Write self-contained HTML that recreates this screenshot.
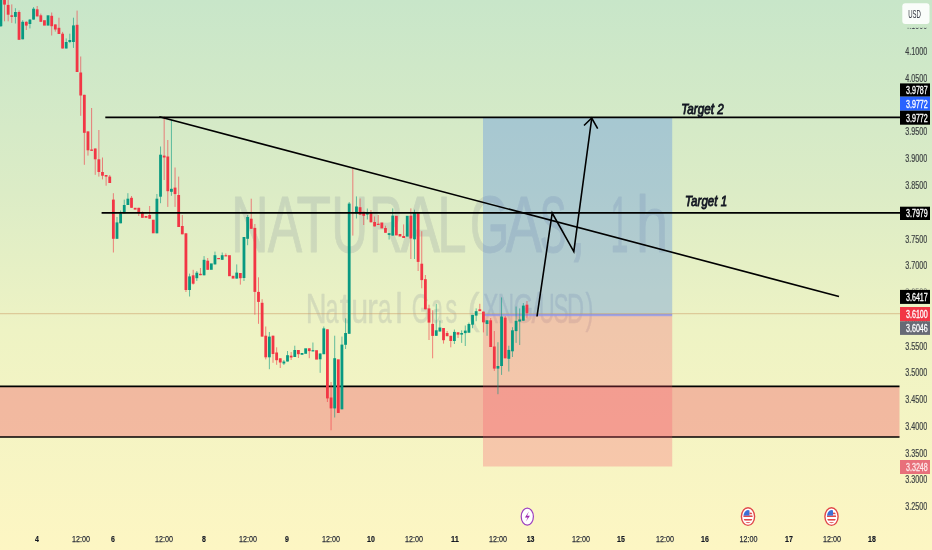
<!DOCTYPE html>
<html><head><meta charset="utf-8"><style>
html,body{margin:0;padding:0;width:932px;height:550px;overflow:hidden;}
body{background:linear-gradient(to bottom,#c8e6c9 0%,#dcecc6 35%,#eef3c4 60%,#fdf6c3 100%);font-family:"Liberation Sans",sans-serif;}
svg{position:absolute;left:0;top:0;will-change:transform;}
</style></head><body>
<svg width="932" height="550" viewBox="0 0 932 550" font-family="Liberation Sans, sans-serif">
<!-- watermark -->
<g opacity="0.2" fill="#7a8494" stroke="#7a8494" stroke-width="12" stroke-linejoin="round" font-size="1000">
<text transform="translate(230.93,252.2) scale(0.05206,0.07994)">N</text>
<text transform="translate(267.80,252.2) scale(0.05158,0.07994)">A</text>
<text transform="translate(296.46,252.2) scale(0.05654,0.07994)">T</text>
<text transform="translate(331.37,252.2) scale(0.05106,0.07994)">U</text>
<text transform="translate(369.18,252.2) scale(0.04654,0.07994)">R</text>
<text transform="translate(400.48,252.2) scale(0.05928,0.07994)">A</text>
<text transform="translate(437.27,252.2) scale(0.05283,0.07994)">L</text>
<text transform="translate(469.64,252.2) scale(0.05115,0.07994)">G</text>
<text transform="translate(505.49,252.2) scale(0.05490,0.07994)">A</text>
<text transform="translate(539.76,252.2) scale(0.04000,0.07994)">S</text>
<text transform="translate(568.03,252.2) scale(0.06633,0.07994)">,</text>
<text transform="translate(610.45,252.2) scale(0.03225,0.07994)">1</text>
<text transform="translate(635.89,252.2) scale(0.05806,0.07994)">h</text>
</g>
<g opacity="0.2" fill="#7a8494" stroke="#7a8494" stroke-width="12" stroke-linejoin="round" font-size="1000">
<text transform="translate(305.64,322.6) scale(0.02880,0.04172)">N</text>
<text transform="translate(325.62,322.6) scale(0.02335,0.04172)">a</text>
<text transform="translate(339.63,322.6) scale(0.03789,0.04172)">t</text>
<text transform="translate(351.13,322.6) scale(0.03035,0.04172)">u</text>
<text transform="translate(367.06,322.6) scale(0.03240,0.04172)">r</text>
<text transform="translate(377.85,322.6) scale(0.02490,0.04172)">a</text>
<text transform="translate(395.32,322.6) scale(0.03409,0.04172)">l</text>
<text transform="translate(411.75,322.6) scale(0.02297,0.04172)">G</text>
<text transform="translate(431.33,322.6) scale(0.02082,0.04172)">a</text>
<text transform="translate(445.44,322.6) scale(0.02339,0.04172)">s</text>
<text transform="translate(467.43,322.6) scale(0.03660,0.04172)">(</text>
<text transform="translate(483.28,322.6) scale(0.02279,0.04172)">X</text>
<text transform="translate(497.64,322.6) scale(0.02272,0.04172)">N</text>
<text transform="translate(513.52,322.6) scale(0.02557,0.04172)">G</text>
<text transform="translate(531.50,322.6) scale(0.03237,0.04172)">/</text>
<text transform="translate(538.81,322.6) scale(0.02201,0.04172)">U</text>
<text transform="translate(553.46,322.6) scale(0.02261,0.04172)">S</text>
<text transform="translate(567.06,322.6) scale(0.02365,0.04172)">D</text>
<text transform="translate(585.46,322.6) scale(0.02415,0.04172)">)</text>
</g>
<!-- support zone -->
<rect x="0" y="386.3" width="899.5" height="50.7" fill="#f04357" fill-opacity="0.33"/>
<line x1="0" y1="386.3" x2="899.5" y2="386.3" stroke="#000" stroke-width="1.7"/>
<line x1="0" y1="437" x2="899.5" y2="437" stroke="#000" stroke-width="1.7"/>
<!-- position boxes -->
<rect x="483" y="117.3" width="189.2" height="197.5" fill="#2e6fed" fill-opacity="0.27"/>
<rect x="483" y="316" width="189.2" height="150.5" fill="#f84d68" fill-opacity="0.27"/>
<rect x="483" y="314" width="189.2" height="2.2" fill="#8f8fe8" opacity="0.8"/>
<!-- price line -->
<line x1="0" y1="313.6" x2="900" y2="313.6" stroke="#c8905a" stroke-width="1.2" opacity="0.4"/>
<!-- candles -->
<rect x="0.40" y="-2.0" width="1" height="29.0" fill="#089981" opacity="0.6"/>
<rect x="-0.50" y="0.0" width="2.8" height="26.2" fill="#089981"/>
<rect x="4.03" y="-2.0" width="1" height="23.3" fill="#f23645" opacity="0.6"/>
<rect x="3.13" y="0.0" width="2.8" height="4.6" fill="#f23645"/>
<rect x="7.66" y="0.0" width="1" height="21.3" fill="#f23645" opacity="0.6"/>
<rect x="6.76" y="4.9" width="2.8" height="9.8" fill="#f23645"/>
<rect x="11.28" y="4.4" width="1" height="18.5" fill="#f23645" opacity="0.6"/>
<rect x="10.38" y="15.3" width="2.8" height="1.6" fill="#f23645"/>
<rect x="14.91" y="8.2" width="1" height="15.3" fill="#089981" opacity="0.6"/>
<rect x="14.01" y="12.0" width="2.8" height="4.9" fill="#089981"/>
<rect x="18.54" y="10.4" width="1" height="29.4" fill="#f23645" opacity="0.6"/>
<rect x="17.64" y="12.0" width="2.8" height="27.8" fill="#f23645"/>
<rect x="22.17" y="20.2" width="1" height="19.1" fill="#089981" opacity="0.6"/>
<rect x="21.27" y="21.8" width="2.8" height="17.5" fill="#089981"/>
<rect x="25.80" y="21.3" width="1" height="8.7" fill="#f23645" opacity="0.6"/>
<rect x="24.90" y="21.8" width="2.8" height="3.8" fill="#f23645"/>
<rect x="29.42" y="19.1" width="1" height="9.3" fill="#089981" opacity="0.6"/>
<rect x="28.52" y="19.6" width="2.8" height="4.4" fill="#089981"/>
<rect x="33.05" y="7.1" width="1" height="12.5" fill="#089981" opacity="0.6"/>
<rect x="32.15" y="8.7" width="2.8" height="10.9" fill="#089981"/>
<rect x="36.68" y="6.0" width="1" height="10.4" fill="#f23645" opacity="0.6"/>
<rect x="35.78" y="9.3" width="2.8" height="7.1" fill="#f23645"/>
<rect x="40.31" y="13.6" width="1" height="8.2" fill="#f23645" opacity="0.6"/>
<rect x="39.41" y="15.3" width="2.8" height="6.5" fill="#f23645"/>
<rect x="43.04" y="20.2" width="2.8" height="5.4" fill="#f23645"/>
<rect x="46.66" y="15.3" width="2.8" height="10.3" fill="#089981"/>
<rect x="51.19" y="12.5" width="1" height="23.0" fill="#f23645" opacity="0.6"/>
<rect x="50.29" y="15.8" width="2.8" height="10.4" fill="#f23645"/>
<rect x="54.82" y="24.4" width="1" height="7.2" fill="#f23645" opacity="0.6"/>
<rect x="53.92" y="24.4" width="2.8" height="5.1" fill="#f23645"/>
<rect x="58.45" y="17.7" width="1" height="16.3" fill="#f23645" opacity="0.6"/>
<rect x="57.55" y="27.8" width="2.8" height="6.2" fill="#f23645"/>
<rect x="62.08" y="31.9" width="1" height="16.6" fill="#f23645" opacity="0.6"/>
<rect x="61.18" y="33.7" width="2.8" height="14.8" fill="#f23645"/>
<rect x="65.70" y="38.4" width="1" height="10.1" fill="#089981" opacity="0.6"/>
<rect x="64.80" y="42.0" width="2.8" height="6.5" fill="#089981"/>
<rect x="69.33" y="33.7" width="1" height="9.4" fill="#089981" opacity="0.6"/>
<rect x="68.43" y="40.0" width="2.8" height="2.0" fill="#089981"/>
<rect x="72.96" y="17.7" width="1" height="30.2" fill="#089981" opacity="0.6"/>
<rect x="72.06" y="25.4" width="2.8" height="16.6" fill="#089981"/>
<rect x="76.59" y="10.6" width="1" height="61.4" fill="#f23645" opacity="0.6"/>
<rect x="75.69" y="24.8" width="2.8" height="47.2" fill="#f23645"/>
<rect x="80.22" y="56.5" width="1" height="59.3" fill="#f23645" opacity="0.6"/>
<rect x="79.32" y="72.5" width="2.8" height="23.0" fill="#f23645"/>
<rect x="83.84" y="94.8" width="1" height="70.0" fill="#f23645" opacity="0.6"/>
<rect x="82.94" y="94.8" width="2.8" height="38.0" fill="#f23645"/>
<rect x="87.47" y="131.4" width="1" height="24.2" fill="#f23645" opacity="0.6"/>
<rect x="86.57" y="131.4" width="2.8" height="18.9" fill="#f23645"/>
<rect x="91.10" y="108.0" width="1" height="42.9" fill="#f23645" opacity="0.6"/>
<rect x="90.20" y="149.5" width="2.8" height="1.3" fill="#f23645"/>
<rect x="94.73" y="148.5" width="1" height="26.3" fill="#f23645" opacity="0.6"/>
<rect x="93.83" y="148.5" width="2.8" height="10.8" fill="#f23645"/>
<rect x="98.36" y="130.0" width="1" height="46.6" fill="#f23645" opacity="0.6"/>
<rect x="97.46" y="159.3" width="2.8" height="12.7" fill="#f23645"/>
<rect x="101.98" y="157.5" width="1" height="21.9" fill="#f23645" opacity="0.6"/>
<rect x="101.08" y="172.0" width="2.8" height="3.7" fill="#f23645"/>
<rect x="105.61" y="175.0" width="1" height="10.7" fill="#f23645" opacity="0.6"/>
<rect x="104.71" y="175.0" width="2.8" height="1.6" fill="#f23645"/>
<rect x="109.24" y="175.0" width="1" height="8.0" fill="#f23645" opacity="0.6"/>
<rect x="108.34" y="176.6" width="2.8" height="6.4" fill="#f23645"/>
<rect x="112.87" y="193.2" width="1" height="59.3" fill="#f23645" opacity="0.6"/>
<rect x="111.97" y="199.6" width="2.8" height="39.2" fill="#f23645"/>
<rect x="116.50" y="217.0" width="1" height="21.8" fill="#089981" opacity="0.6"/>
<rect x="115.60" y="222.4" width="2.8" height="16.4" fill="#089981"/>
<rect x="120.12" y="210.5" width="1" height="12.8" fill="#089981" opacity="0.6"/>
<rect x="119.22" y="213.3" width="2.8" height="10.0" fill="#089981"/>
<rect x="123.75" y="199.6" width="1" height="13.7" fill="#089981" opacity="0.6"/>
<rect x="122.85" y="205.0" width="2.8" height="8.3" fill="#089981"/>
<rect x="127.38" y="193.2" width="1" height="11.8" fill="#089981" opacity="0.6"/>
<rect x="126.48" y="198.7" width="2.8" height="6.3" fill="#089981"/>
<rect x="131.01" y="196.0" width="1" height="11.8" fill="#f23645" opacity="0.6"/>
<rect x="130.11" y="197.8" width="2.8" height="10.0" fill="#f23645"/>
<rect x="133.74" y="207.8" width="2.8" height="1.8" fill="#f23645"/>
<rect x="138.26" y="207.8" width="1" height="8.2" fill="#f23645" opacity="0.6"/>
<rect x="137.36" y="207.8" width="2.8" height="5.5" fill="#f23645"/>
<rect x="141.89" y="211.5" width="1" height="6.3" fill="#f23645" opacity="0.6"/>
<rect x="140.99" y="212.4" width="2.8" height="5.4" fill="#f23645"/>
<rect x="144.62" y="216.0" width="2.8" height="1.8" fill="#f23645"/>
<rect x="149.15" y="206.0" width="1" height="12.7" fill="#f23645" opacity="0.6"/>
<rect x="148.25" y="215.0" width="2.8" height="3.7" fill="#f23645"/>
<rect x="151.88" y="219.7" width="2.8" height="13.6" fill="#f23645"/>
<rect x="156.40" y="194.0" width="1" height="39.3" fill="#089981" opacity="0.6"/>
<rect x="155.50" y="198.7" width="2.8" height="34.6" fill="#089981"/>
<rect x="160.03" y="146.5" width="1" height="56.7" fill="#089981" opacity="0.6"/>
<rect x="159.13" y="154.7" width="2.8" height="42.0" fill="#089981"/>
<rect x="163.66" y="116.4" width="1" height="63.6" fill="#f23645" opacity="0.6"/>
<rect x="162.76" y="155.6" width="2.8" height="1.9" fill="#f23645"/>
<rect x="167.29" y="140.0" width="1" height="66.9" fill="#f23645" opacity="0.6"/>
<rect x="166.39" y="156.5" width="2.8" height="34.7" fill="#f23645"/>
<rect x="170.92" y="120.0" width="1" height="75.8" fill="#089981" opacity="0.6"/>
<rect x="170.02" y="188.8" width="2.8" height="3.0" fill="#089981"/>
<rect x="174.54" y="167.5" width="1" height="39.4" fill="#f23645" opacity="0.6"/>
<rect x="173.64" y="187.6" width="2.8" height="6.5" fill="#f23645"/>
<rect x="178.17" y="176.6" width="1" height="50.4" fill="#f23645" opacity="0.6"/>
<rect x="177.27" y="195.0" width="2.8" height="32.0" fill="#f23645"/>
<rect x="181.80" y="215.0" width="1" height="19.3" fill="#f23645" opacity="0.6"/>
<rect x="180.90" y="226.0" width="2.8" height="8.3" fill="#f23645"/>
<rect x="185.43" y="233.3" width="1" height="58.7" fill="#f23645" opacity="0.6"/>
<rect x="184.53" y="233.3" width="2.8" height="56.7" fill="#f23645"/>
<rect x="189.06" y="273.6" width="1" height="22.9" fill="#089981" opacity="0.6"/>
<rect x="188.16" y="276.4" width="2.8" height="13.6" fill="#089981"/>
<rect x="192.68" y="269.8" width="1" height="14.8" fill="#f23645" opacity="0.6"/>
<rect x="191.78" y="275.3" width="2.8" height="8.4" fill="#f23645"/>
<rect x="196.31" y="271.0" width="1" height="10.0" fill="#089981" opacity="0.6"/>
<rect x="195.41" y="272.7" width="2.8" height="5.5" fill="#089981"/>
<rect x="199.94" y="268.0" width="1" height="7.2" fill="#f23645" opacity="0.6"/>
<rect x="199.04" y="273.8" width="2.8" height="1.4" fill="#f23645"/>
<rect x="203.57" y="256.1" width="1" height="19.2" fill="#089981" opacity="0.6"/>
<rect x="202.67" y="259.8" width="2.8" height="15.5" fill="#089981"/>
<rect x="207.20" y="258.0" width="1" height="11.8" fill="#f23645" opacity="0.6"/>
<rect x="206.30" y="260.7" width="2.8" height="9.1" fill="#f23645"/>
<rect x="209.92" y="263.4" width="2.8" height="6.4" fill="#089981"/>
<rect x="214.45" y="251.6" width="1" height="12.8" fill="#089981" opacity="0.6"/>
<rect x="213.55" y="255.2" width="2.8" height="9.2" fill="#089981"/>
<rect x="217.18" y="258.0" width="2.8" height="1.2" fill="#f23645"/>
<rect x="221.71" y="252.5" width="1" height="7.3" fill="#089981" opacity="0.6"/>
<rect x="220.81" y="255.2" width="2.8" height="4.6" fill="#089981"/>
<rect x="225.34" y="253.4" width="1" height="2.7" fill="#f23645" opacity="0.6"/>
<rect x="224.44" y="255.2" width="2.8" height="1.2" fill="#f23645"/>
<rect x="228.06" y="255.2" width="2.8" height="21.0" fill="#f23645"/>
<rect x="231.69" y="275.8" width="2.8" height="2.8" fill="#f23645"/>
<rect x="236.22" y="264.4" width="1" height="14.2" fill="#089981" opacity="0.6"/>
<rect x="235.32" y="272.6" width="2.8" height="6.0" fill="#089981"/>
<rect x="239.85" y="273.0" width="1" height="11.6" fill="#f23645" opacity="0.6"/>
<rect x="238.95" y="273.0" width="2.8" height="5.2" fill="#f23645"/>
<rect x="243.48" y="237.0" width="1" height="44.0" fill="#089981" opacity="0.6"/>
<rect x="242.58" y="237.0" width="2.8" height="41.0" fill="#089981"/>
<rect x="247.10" y="215.0" width="1" height="30.2" fill="#089981" opacity="0.6"/>
<rect x="246.20" y="217.0" width="2.8" height="21.8" fill="#089981"/>
<rect x="250.73" y="198.7" width="1" height="30.1" fill="#f23645" opacity="0.6"/>
<rect x="249.83" y="218.7" width="2.8" height="10.1" fill="#f23645"/>
<rect x="254.36" y="224.0" width="1" height="90.7" fill="#f23645" opacity="0.6"/>
<rect x="253.46" y="227.9" width="2.8" height="64.0" fill="#f23645"/>
<rect x="257.99" y="277.3" width="1" height="46.5" fill="#f23645" opacity="0.6"/>
<rect x="257.09" y="291.9" width="2.8" height="10.0" fill="#f23645"/>
<rect x="261.62" y="299.2" width="1" height="37.4" fill="#f23645" opacity="0.6"/>
<rect x="260.72" y="302.8" width="2.8" height="33.8" fill="#f23645"/>
<rect x="265.24" y="326.5" width="1" height="32.9" fill="#f23645" opacity="0.6"/>
<rect x="264.34" y="335.7" width="2.8" height="21.6" fill="#f23645"/>
<rect x="268.87" y="332.0" width="1" height="37.2" fill="#089981" opacity="0.6"/>
<rect x="267.97" y="336.6" width="2.8" height="20.7" fill="#089981"/>
<rect x="272.50" y="335.7" width="1" height="27.1" fill="#f23645" opacity="0.6"/>
<rect x="271.60" y="335.7" width="2.8" height="18.3" fill="#f23645"/>
<rect x="276.13" y="347.3" width="1" height="17.5" fill="#f23645" opacity="0.6"/>
<rect x="275.23" y="352.5" width="2.8" height="7.7" fill="#f23645"/>
<rect x="279.76" y="358.3" width="1" height="9.7" fill="#f23645" opacity="0.6"/>
<rect x="278.86" y="358.3" width="2.8" height="4.2" fill="#f23645"/>
<rect x="283.38" y="360.0" width="1" height="5.0" fill="#089981" opacity="0.6"/>
<rect x="282.48" y="361.5" width="2.8" height="2.0" fill="#089981"/>
<rect x="287.01" y="351.0" width="1" height="10.5" fill="#089981" opacity="0.6"/>
<rect x="286.11" y="355.2" width="2.8" height="6.3" fill="#089981"/>
<rect x="290.64" y="352.0" width="1" height="8.0" fill="#f23645" opacity="0.6"/>
<rect x="289.74" y="355.7" width="2.8" height="1.8" fill="#f23645"/>
<rect x="294.27" y="345.7" width="1" height="11.3" fill="#089981" opacity="0.6"/>
<rect x="293.37" y="350.0" width="2.8" height="7.0" fill="#089981"/>
<rect x="297.90" y="350.0" width="1" height="8.0" fill="#f23645" opacity="0.6"/>
<rect x="297.00" y="350.0" width="2.8" height="4.2" fill="#f23645"/>
<rect x="300.62" y="353.0" width="2.8" height="1.8" fill="#089981"/>
<rect x="304.25" y="348.3" width="2.8" height="5.5" fill="#089981"/>
<rect x="308.78" y="348.3" width="1" height="9.9" fill="#f23645" opacity="0.6"/>
<rect x="307.88" y="348.3" width="2.8" height="2.8" fill="#f23645"/>
<rect x="312.41" y="342.5" width="1" height="8.8" fill="#089981" opacity="0.6"/>
<rect x="311.51" y="350.2" width="2.8" height="1.2" fill="#089981"/>
<rect x="315.14" y="350.2" width="2.8" height="9.4" fill="#f23645"/>
<rect x="319.66" y="353.5" width="1" height="19.3" fill="#089981" opacity="0.6"/>
<rect x="318.76" y="353.5" width="2.8" height="5.8" fill="#089981"/>
<rect x="323.29" y="326.5" width="1" height="27.7" fill="#089981" opacity="0.6"/>
<rect x="322.39" y="328.4" width="2.8" height="25.8" fill="#089981"/>
<rect x="326.92" y="329.3" width="1" height="72.7" fill="#f23645" opacity="0.6"/>
<rect x="326.02" y="329.3" width="2.8" height="69.1" fill="#f23645"/>
<rect x="330.55" y="382.0" width="1" height="48.3" fill="#f23645" opacity="0.6"/>
<rect x="329.65" y="397.5" width="2.8" height="10.9" fill="#f23645"/>
<rect x="334.18" y="335.7" width="1" height="81.8" fill="#089981" opacity="0.6"/>
<rect x="333.28" y="358.2" width="2.8" height="50.2" fill="#089981"/>
<rect x="336.90" y="359.3" width="2.8" height="53.7" fill="#f23645"/>
<rect x="341.43" y="336.6" width="1" height="72.7" fill="#089981" opacity="0.6"/>
<rect x="340.53" y="344.6" width="2.8" height="64.7" fill="#089981"/>
<rect x="345.06" y="318.3" width="1" height="30.7" fill="#089981" opacity="0.6"/>
<rect x="344.16" y="333.0" width="2.8" height="11.8" fill="#089981"/>
<rect x="348.69" y="202.0" width="1" height="131.8" fill="#089981" opacity="0.6"/>
<rect x="347.79" y="203.6" width="2.8" height="130.2" fill="#089981"/>
<rect x="352.32" y="168.5" width="1" height="67.1" fill="#f23645" opacity="0.6"/>
<rect x="351.42" y="212.0" width="2.8" height="1.2" fill="#f23645"/>
<rect x="355.94" y="196.4" width="1" height="22.1" fill="#089981" opacity="0.6"/>
<rect x="355.04" y="206.5" width="2.8" height="7.0" fill="#089981"/>
<rect x="359.57" y="198.5" width="1" height="16.1" fill="#f23645" opacity="0.6"/>
<rect x="358.67" y="207.2" width="2.8" height="7.4" fill="#f23645"/>
<rect x="363.20" y="211.8" width="1" height="13.2" fill="#f23645" opacity="0.6"/>
<rect x="362.30" y="211.8" width="2.8" height="4.0" fill="#f23645"/>
<rect x="366.83" y="208.5" width="1" height="11.0" fill="#089981" opacity="0.6"/>
<rect x="365.93" y="212.5" width="2.8" height="2.0" fill="#089981"/>
<rect x="370.46" y="210.0" width="1" height="12.3" fill="#f23645" opacity="0.6"/>
<rect x="369.56" y="212.5" width="2.8" height="9.8" fill="#f23645"/>
<rect x="374.08" y="216.5" width="1" height="9.9" fill="#f23645" opacity="0.6"/>
<rect x="373.18" y="222.0" width="2.8" height="4.4" fill="#f23645"/>
<rect x="377.71" y="215.0" width="1" height="9.8" fill="#f23645" opacity="0.6"/>
<rect x="376.81" y="223.8" width="2.8" height="1.2" fill="#f23645"/>
<rect x="380.44" y="222.5" width="2.8" height="5.9" fill="#f23645"/>
<rect x="384.97" y="225.7" width="1" height="7.1" fill="#f23645" opacity="0.6"/>
<rect x="384.07" y="228.0" width="2.8" height="4.8" fill="#f23645"/>
<rect x="388.60" y="233.2" width="1" height="6.3" fill="#089981" opacity="0.6"/>
<rect x="387.70" y="233.2" width="2.8" height="1.7" fill="#089981"/>
<rect x="392.22" y="208.4" width="1" height="27.2" fill="#089981" opacity="0.6"/>
<rect x="391.32" y="215.6" width="2.8" height="20.0" fill="#089981"/>
<rect x="394.95" y="215.8" width="2.8" height="19.6" fill="#f23645"/>
<rect x="398.58" y="234.0" width="2.8" height="2.5" fill="#f23645"/>
<rect x="403.11" y="224.4" width="1" height="13.6" fill="#f23645" opacity="0.6"/>
<rect x="402.21" y="236.0" width="2.8" height="2.0" fill="#f23645"/>
<rect x="405.84" y="215.8" width="2.8" height="20.8" fill="#089981"/>
<rect x="410.36" y="208.4" width="1" height="50.6" fill="#f23645" opacity="0.6"/>
<rect x="409.46" y="215.7" width="2.8" height="22.8" fill="#f23645"/>
<rect x="413.99" y="209.7" width="1" height="49.3" fill="#089981" opacity="0.6"/>
<rect x="413.09" y="212.7" width="2.8" height="26.6" fill="#089981"/>
<rect x="417.62" y="213.2" width="1" height="57.8" fill="#f23645" opacity="0.6"/>
<rect x="416.72" y="213.2" width="2.8" height="48.7" fill="#f23645"/>
<rect x="421.25" y="231.2" width="1" height="57.1" fill="#f23645" opacity="0.6"/>
<rect x="420.35" y="263.7" width="2.8" height="16.4" fill="#f23645"/>
<rect x="424.88" y="275.0" width="1" height="34.3" fill="#f23645" opacity="0.6"/>
<rect x="423.98" y="279.2" width="2.8" height="30.1" fill="#f23645"/>
<rect x="428.50" y="304.7" width="1" height="35.3" fill="#f23645" opacity="0.6"/>
<rect x="427.60" y="308.4" width="2.8" height="14.2" fill="#f23645"/>
<rect x="432.13" y="310.2" width="1" height="48.1" fill="#f23645" opacity="0.6"/>
<rect x="431.23" y="323.9" width="2.8" height="12.0" fill="#f23645"/>
<rect x="435.76" y="303.8" width="1" height="32.0" fill="#089981" opacity="0.6"/>
<rect x="434.86" y="330.3" width="2.8" height="5.5" fill="#089981"/>
<rect x="439.39" y="320.5" width="1" height="11.0" fill="#089981" opacity="0.6"/>
<rect x="438.49" y="327.5" width="2.8" height="4.0" fill="#089981"/>
<rect x="443.02" y="328.0" width="1" height="15.6" fill="#f23645" opacity="0.6"/>
<rect x="442.12" y="328.0" width="2.8" height="12.2" fill="#f23645"/>
<rect x="446.64" y="331.0" width="1" height="5.2" fill="#f23645" opacity="0.6"/>
<rect x="445.74" y="333.0" width="2.8" height="3.2" fill="#f23645"/>
<rect x="450.27" y="335.8" width="1" height="11.5" fill="#f23645" opacity="0.6"/>
<rect x="449.37" y="335.8" width="2.8" height="5.2" fill="#f23645"/>
<rect x="453.90" y="329.5" width="1" height="14.5" fill="#089981" opacity="0.6"/>
<rect x="453.00" y="331.9" width="2.8" height="9.1" fill="#089981"/>
<rect x="457.53" y="332.3" width="1" height="5.7" fill="#f23645" opacity="0.6"/>
<rect x="456.63" y="332.3" width="2.8" height="2.3" fill="#f23645"/>
<rect x="461.16" y="330.3" width="1" height="12.6" fill="#089981" opacity="0.6"/>
<rect x="460.26" y="333.0" width="2.8" height="1.6" fill="#089981"/>
<rect x="464.78" y="325.5" width="1" height="20.5" fill="#089981" opacity="0.6"/>
<rect x="463.88" y="330.6" width="2.8" height="2.5" fill="#089981"/>
<rect x="468.41" y="322.6" width="1" height="10.1" fill="#089981" opacity="0.6"/>
<rect x="467.51" y="324.0" width="2.8" height="8.7" fill="#089981"/>
<rect x="472.04" y="314.9" width="1" height="13.3" fill="#089981" opacity="0.6"/>
<rect x="471.14" y="314.9" width="2.8" height="9.8" fill="#089981"/>
<rect x="475.67" y="308.4" width="1" height="12.8" fill="#089981" opacity="0.6"/>
<rect x="474.77" y="311.2" width="2.8" height="4.4" fill="#089981"/>
<rect x="479.30" y="303.8" width="1" height="7.3" fill="#f23645" opacity="0.6"/>
<rect x="478.40" y="309.3" width="2.8" height="1.8" fill="#f23645"/>
<rect x="482.92" y="311.6" width="1" height="20.8" fill="#f23645" opacity="0.6"/>
<rect x="482.02" y="311.6" width="2.8" height="10.7" fill="#f23645"/>
<rect x="486.55" y="320.3" width="1" height="15.5" fill="#089981" opacity="0.6"/>
<rect x="485.65" y="320.3" width="2.8" height="3.7" fill="#089981"/>
<rect x="490.18" y="318.0" width="1" height="29.0" fill="#f23645" opacity="0.6"/>
<rect x="489.28" y="320.3" width="2.8" height="26.7" fill="#f23645"/>
<rect x="493.81" y="331.0" width="1" height="39.9" fill="#f23645" opacity="0.6"/>
<rect x="492.91" y="346.5" width="2.8" height="22.1" fill="#f23645"/>
<rect x="497.44" y="342.2" width="1" height="52.0" fill="#089981" opacity="0.6"/>
<rect x="496.54" y="366.0" width="2.8" height="2.6" fill="#089981"/>
<rect x="501.06" y="297.4" width="1" height="77.5" fill="#089981" opacity="0.6"/>
<rect x="500.16" y="316.5" width="2.8" height="49.5" fill="#089981"/>
<rect x="504.69" y="316.0" width="1" height="42.3" fill="#f23645" opacity="0.6"/>
<rect x="503.79" y="317.6" width="2.8" height="40.7" fill="#f23645"/>
<rect x="508.32" y="345.7" width="1" height="25.8" fill="#089981" opacity="0.6"/>
<rect x="507.42" y="349.9" width="2.8" height="8.9" fill="#089981"/>
<rect x="511.95" y="327.2" width="1" height="29.8" fill="#089981" opacity="0.6"/>
<rect x="511.05" y="330.3" width="2.8" height="21.0" fill="#089981"/>
<rect x="515.58" y="306.5" width="1" height="36.4" fill="#089981" opacity="0.6"/>
<rect x="514.68" y="320.8" width="2.8" height="10.3" fill="#089981"/>
<rect x="519.20" y="308.4" width="1" height="36.6" fill="#089981" opacity="0.6"/>
<rect x="518.30" y="319.5" width="2.8" height="2.0" fill="#089981"/>
<rect x="522.83" y="303.0" width="1" height="17.7" fill="#089981" opacity="0.6"/>
<rect x="521.93" y="305.6" width="2.8" height="15.1" fill="#089981"/>
<rect x="526.46" y="301.0" width="1" height="17.4" fill="#f23645" opacity="0.6"/>
<rect x="525.56" y="304.7" width="2.8" height="8.5" fill="#f23645"/>
<!-- drawings -->
<line x1="105.3" y1="117.3" x2="900" y2="117.3" stroke="#000" stroke-width="1.65"/>
<line x1="101.6" y1="212.8" x2="900" y2="212.8" stroke="#000" stroke-width="1.65"/>
<line x1="159.3" y1="116.8" x2="839" y2="296.4" stroke="#000" stroke-width="1.6"/>
<polyline points="537,316.5 552.2,213 573.8,251.6 591.7,118.5" fill="none" stroke="#000" stroke-width="1.6" stroke-linejoin="miter"/>
<polyline points="584,125.5 591.7,118 597.7,128.7" fill="none" stroke="#000" stroke-width="1.6"/>
<text x="681.2" y="113.8" font-size="14.5" font-style="italic" textLength="42.5" lengthAdjust="spacingAndGlyphs" fill="#131722" stroke="#131722" stroke-width="0.85">Target 2</text>
<text x="685.1" y="205.7" font-size="14.5" font-style="italic" textLength="42" lengthAdjust="spacingAndGlyphs" fill="#131722" stroke="#131722" stroke-width="0.85">Target 1</text>
<!-- price axis -->
<rect x="902.3" y="3.3" width="27.2" height="20.7" rx="3" fill="#ffffff" fill-opacity="0.9"/>
<text x="914.5" y="17.8" text-anchor="middle" font-size="10.5" textLength="12.7" lengthAdjust="spacingAndGlyphs" fill="#2a2e39">USD</text>
<text x="927.3" y="108.6" text-anchor="end" font-size="10.8" textLength="22" lengthAdjust="spacingAndGlyphs" fill="#3c4042" stroke="#3c4042" stroke-width="0.2">4.0000</text>
<text x="927.3" y="215.7" text-anchor="end" font-size="10.8" textLength="22" lengthAdjust="spacingAndGlyphs" fill="#3c4042" stroke="#3c4042" stroke-width="0.2">3.8000</text>
<text x="927.3" y="322.8" text-anchor="end" font-size="10.8" textLength="22" lengthAdjust="spacingAndGlyphs" fill="#3c4042" stroke="#3c4042" stroke-width="0.2">3.6000</text>
<text x="927.3" y="55.1" text-anchor="end" font-size="10.8" textLength="22" lengthAdjust="spacingAndGlyphs" fill="#3c4042" stroke="#3c4042" stroke-width="0.2">4.1000</text>
<text x="927.3" y="81.9" text-anchor="end" font-size="10.8" textLength="22" lengthAdjust="spacingAndGlyphs" fill="#3c4042" stroke="#3c4042" stroke-width="0.2">4.0500</text>
<text x="927.3" y="135.4" text-anchor="end" font-size="10.8" textLength="22" lengthAdjust="spacingAndGlyphs" fill="#3c4042" stroke="#3c4042" stroke-width="0.2">3.9500</text>
<text x="927.3" y="162.2" text-anchor="end" font-size="10.8" textLength="22" lengthAdjust="spacingAndGlyphs" fill="#3c4042" stroke="#3c4042" stroke-width="0.2">3.9000</text>
<text x="927.3" y="188.9" text-anchor="end" font-size="10.8" textLength="22" lengthAdjust="spacingAndGlyphs" fill="#3c4042" stroke="#3c4042" stroke-width="0.2">3.8500</text>
<text x="927.3" y="242.5" text-anchor="end" font-size="10.8" textLength="22" lengthAdjust="spacingAndGlyphs" fill="#3c4042" stroke="#3c4042" stroke-width="0.2">3.7500</text>
<text x="927.3" y="269.3" text-anchor="end" font-size="10.8" textLength="22" lengthAdjust="spacingAndGlyphs" fill="#3c4042" stroke="#3c4042" stroke-width="0.2">3.7000</text>
<text x="927.3" y="349.6" text-anchor="end" font-size="10.8" textLength="22" lengthAdjust="spacingAndGlyphs" fill="#3c4042" stroke="#3c4042" stroke-width="0.2">3.5500</text>
<text x="927.3" y="376.3" text-anchor="end" font-size="10.8" textLength="22" lengthAdjust="spacingAndGlyphs" fill="#3c4042" stroke="#3c4042" stroke-width="0.2">3.5000</text>
<text x="927.3" y="403.1" text-anchor="end" font-size="10.8" textLength="22" lengthAdjust="spacingAndGlyphs" fill="#3c4042" stroke="#3c4042" stroke-width="0.2">3.4500</text>
<text x="927.3" y="429.9" text-anchor="end" font-size="10.8" textLength="22" lengthAdjust="spacingAndGlyphs" fill="#3c4042" stroke="#3c4042" stroke-width="0.2">3.4000</text>
<text x="927.3" y="456.6" text-anchor="end" font-size="10.8" textLength="22" lengthAdjust="spacingAndGlyphs" fill="#3c4042" stroke="#3c4042" stroke-width="0.2">3.3500</text>
<text x="927.3" y="483.4" text-anchor="end" font-size="10.8" textLength="22" lengthAdjust="spacingAndGlyphs" fill="#3c4042" stroke="#3c4042" stroke-width="0.2">3.3000</text>
<text x="927.3" y="510.2" text-anchor="end" font-size="10.8" textLength="22" lengthAdjust="spacingAndGlyphs" fill="#3c4042" stroke="#3c4042" stroke-width="0.2">3.2500</text>
<clipPath id="c415"><rect x="900" y="27.8" width="32" height="2.5"/></clipPath><text clip-path="url(#c415)" x="927.3" y="29.3" text-anchor="end" font-size="10.8" textLength="22" lengthAdjust="spacingAndGlyphs" fill="#3f434c">4.1500</text>
<clipPath id="c365"><rect x="900" y="288.2" width="32" height="2.2"/></clipPath><text clip-path="url(#c365)" x="927.3" y="296.0" text-anchor="end" font-size="10.8" textLength="22" lengthAdjust="spacingAndGlyphs" fill="#4a4e52" opacity="0.7">3.6500</text>
<rect x="900" y="83.4" width="30" height="13.3" fill="#000000"/>
<text x="927.8" y="94.2" text-anchor="end" font-size="10.2" textLength="21.8" lengthAdjust="spacingAndGlyphs" fill="#ffffff" stroke="#ffffff" stroke-width="0.3">3.9787</text>
<rect x="900" y="96.7" width="30" height="14.0" fill="#2962ff"/>
<text x="927.8" y="107.8" text-anchor="end" font-size="10.2" textLength="21.8" lengthAdjust="spacingAndGlyphs" fill="#ffffff" stroke="#ffffff" stroke-width="0.3">3.9772</text>
<rect x="900" y="110.7" width="30" height="14.0" fill="#000000"/>
<text x="927.8" y="121.8" text-anchor="end" font-size="10.2" textLength="21.8" lengthAdjust="spacingAndGlyphs" fill="#ffffff" stroke="#ffffff" stroke-width="0.3">3.9772</text>
<rect x="900" y="206.7" width="30" height="13.3" fill="#000000"/>
<text x="927.8" y="217.4" text-anchor="end" font-size="10.2" textLength="21.8" lengthAdjust="spacingAndGlyphs" fill="#ffffff" stroke="#ffffff" stroke-width="0.3">3.7979</text>
<rect x="900" y="289.9" width="30" height="14.0" fill="#000000"/>
<text x="927.8" y="301.0" text-anchor="end" font-size="10.2" textLength="21.8" lengthAdjust="spacingAndGlyphs" fill="#ffffff" stroke="#ffffff" stroke-width="0.3">3.6417</text>
<rect x="900" y="307.0" width="30" height="14.3" fill="#f23645"/>
<text x="927.8" y="318.2" text-anchor="end" font-size="10.2" textLength="21.8" lengthAdjust="spacingAndGlyphs" fill="#ffffff" stroke="#ffffff" stroke-width="0.3">3.6100</text>
<rect x="900" y="321.3" width="30" height="13.6" fill="#676a75"/>
<text x="927.8" y="332.2" text-anchor="end" font-size="10.2" textLength="21.8" lengthAdjust="spacingAndGlyphs" fill="#ffffff" stroke="#ffffff" stroke-width="0.3">3.6046</text>
<rect x="900" y="460.0" width="30" height="14.0" fill="#e8707b"/>
<text x="927.8" y="471.1" text-anchor="end" font-size="10.2" textLength="21.8" lengthAdjust="spacingAndGlyphs" fill="#fde7e9" stroke="#fde7e9" stroke-width="0.3">3.3248</text>
<!-- time axis -->
<text x="37" y="541.8" text-anchor="middle" font-size="9.8" font-weight="bold" textLength="3.9" lengthAdjust="spacingAndGlyphs" fill="#131722" stroke="#131722" stroke-width="0.2">4</text>
<text x="81" y="541.8" text-anchor="middle" font-size="9.8" textLength="18" lengthAdjust="spacingAndGlyphs" fill="#2a2e39" stroke="#2a2e39" stroke-width="0.25">12:00</text>
<text x="113" y="541.8" text-anchor="middle" font-size="9.8" font-weight="bold" textLength="3.9" lengthAdjust="spacingAndGlyphs" fill="#131722" stroke="#131722" stroke-width="0.2">6</text>
<text x="164" y="541.8" text-anchor="middle" font-size="9.8" textLength="18" lengthAdjust="spacingAndGlyphs" fill="#2a2e39" stroke="#2a2e39" stroke-width="0.25">12:00</text>
<text x="204" y="541.8" text-anchor="middle" font-size="9.8" font-weight="bold" textLength="3.9" lengthAdjust="spacingAndGlyphs" fill="#131722" stroke="#131722" stroke-width="0.2">8</text>
<text x="248" y="541.8" text-anchor="middle" font-size="9.8" textLength="18" lengthAdjust="spacingAndGlyphs" fill="#2a2e39" stroke="#2a2e39" stroke-width="0.25">12:00</text>
<text x="287" y="541.8" text-anchor="middle" font-size="9.8" font-weight="bold" textLength="3.9" lengthAdjust="spacingAndGlyphs" fill="#131722" stroke="#131722" stroke-width="0.2">9</text>
<text x="331" y="541.8" text-anchor="middle" font-size="9.8" textLength="18" lengthAdjust="spacingAndGlyphs" fill="#2a2e39" stroke="#2a2e39" stroke-width="0.25">12:00</text>
<text x="371" y="541.8" text-anchor="middle" font-size="9.8" font-weight="bold" textLength="7.8" lengthAdjust="spacingAndGlyphs" fill="#131722" stroke="#131722" stroke-width="0.2">10</text>
<text x="414" y="541.8" text-anchor="middle" font-size="9.8" textLength="18" lengthAdjust="spacingAndGlyphs" fill="#2a2e39" stroke="#2a2e39" stroke-width="0.25">12:00</text>
<text x="455" y="541.8" text-anchor="middle" font-size="9.8" font-weight="bold" textLength="7.8" lengthAdjust="spacingAndGlyphs" fill="#131722" stroke="#131722" stroke-width="0.2">11</text>
<text x="498" y="541.8" text-anchor="middle" font-size="9.8" textLength="18" lengthAdjust="spacingAndGlyphs" fill="#2a2e39" stroke="#2a2e39" stroke-width="0.25">12:00</text>
<text x="530.6" y="541.8" text-anchor="middle" font-size="9.8" font-weight="bold" textLength="7.8" lengthAdjust="spacingAndGlyphs" fill="#131722" stroke="#131722" stroke-width="0.2">13</text>
<text x="581" y="541.8" text-anchor="middle" font-size="9.8" textLength="18" lengthAdjust="spacingAndGlyphs" fill="#2a2e39" stroke="#2a2e39" stroke-width="0.25">12:00</text>
<text x="621" y="541.8" text-anchor="middle" font-size="9.8" font-weight="bold" textLength="7.8" lengthAdjust="spacingAndGlyphs" fill="#131722" stroke="#131722" stroke-width="0.2">15</text>
<text x="665" y="541.8" text-anchor="middle" font-size="9.8" textLength="18" lengthAdjust="spacingAndGlyphs" fill="#2a2e39" stroke="#2a2e39" stroke-width="0.25">12:00</text>
<text x="705" y="541.8" text-anchor="middle" font-size="9.8" font-weight="bold" textLength="7.8" lengthAdjust="spacingAndGlyphs" fill="#131722" stroke="#131722" stroke-width="0.2">16</text>
<text x="748.4" y="541.8" text-anchor="middle" font-size="9.8" textLength="18" lengthAdjust="spacingAndGlyphs" fill="#2a2e39" stroke="#2a2e39" stroke-width="0.25">12:00</text>
<text x="789" y="541.8" text-anchor="middle" font-size="9.8" font-weight="bold" textLength="7.8" lengthAdjust="spacingAndGlyphs" fill="#131722" stroke="#131722" stroke-width="0.2">17</text>
<text x="832" y="541.8" text-anchor="middle" font-size="9.8" textLength="18" lengthAdjust="spacingAndGlyphs" fill="#2a2e39" stroke="#2a2e39" stroke-width="0.25">12:00</text>
<text x="872" y="541.8" text-anchor="middle" font-size="9.8" font-weight="bold" textLength="7.8" lengthAdjust="spacingAndGlyphs" fill="#131722" stroke="#131722" stroke-width="0.2">18</text>
<g transform="translate(527.3,516.6)">
<ellipse cx="0" cy="0" rx="6.1" ry="8.5" fill="#ffffff" stroke="#9c3fc0" stroke-width="1.2"/>
<path d="M1.6,-5 L-2.4,0.8 L0.4,0.8 L-1.4,5 L2.6,-0.8 L-0.2,-0.8 Z" fill="#9c27b0"/>
</g>
<g transform="translate(748,516.6)">
<ellipse cx="0" cy="0" rx="6.6" ry="8.8" fill="#ffffff" stroke="#e0494a" stroke-width="1.4"/>
<clipPath id="fc748"><ellipse cx="0" cy="0" rx="4.6" ry="6.6"/></clipPath>
<g clip-path="url(#fc748)">
<rect x="-5" y="-7" width="10" height="14" fill="#ffffff"/>
<rect x="-5" y="-1.2" width="10" height="1.6" fill="#e0494a"/>
<rect x="-5" y="2.4" width="10" height="1.6" fill="#e0494a"/>
<rect x="-5" y="5.6" width="10" height="1.6" fill="#e0494a"/>
<rect x="-5" y="-7" width="6.5" height="6" fill="#3d6fd6"/>
<rect x="1.5" y="-4" width="4" height="1.6" fill="#e0494a"/>
</g></g>
<g transform="translate(831.5,516.6)">
<ellipse cx="0" cy="0" rx="6.6" ry="8.8" fill="#ffffff" stroke="#e0494a" stroke-width="1.4"/>
<clipPath id="fc831"><ellipse cx="0" cy="0" rx="4.6" ry="6.6"/></clipPath>
<g clip-path="url(#fc831)">
<rect x="-5" y="-7" width="10" height="14" fill="#ffffff"/>
<rect x="-5" y="-1.2" width="10" height="1.6" fill="#e0494a"/>
<rect x="-5" y="2.4" width="10" height="1.6" fill="#e0494a"/>
<rect x="-5" y="5.6" width="10" height="1.6" fill="#e0494a"/>
<rect x="-5" y="-7" width="6.5" height="6" fill="#3d6fd6"/>
<rect x="1.5" y="-4" width="4" height="1.6" fill="#e0494a"/>
</g></g>
</svg>
</body></html>
